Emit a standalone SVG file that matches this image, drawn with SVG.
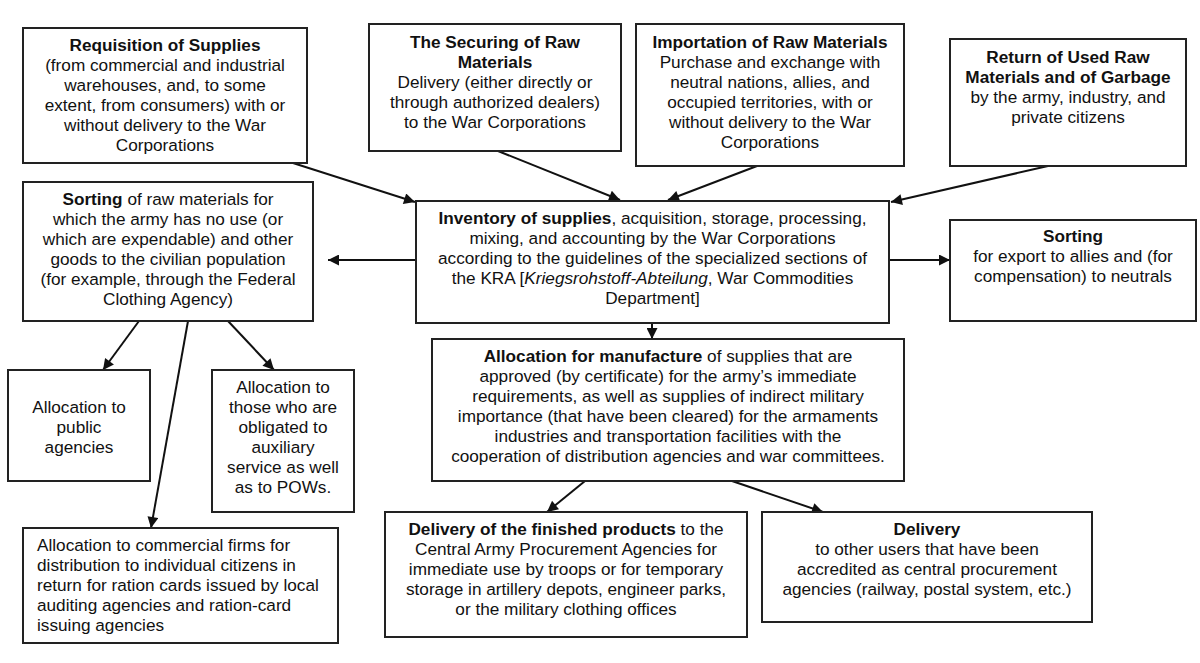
<svg xmlns="http://www.w3.org/2000/svg" width="1200" height="663" viewBox="0 0 1200 663">
<defs>
<style>
.box{fill:#fff;stroke:#222;stroke-width:2}
text{font-family:"Liberation Sans",Arial,sans-serif;font-size:17.2px;fill:#111}
.c{text-anchor:middle}
.b{font-weight:bold}
.i{font-style:italic}
.ln{stroke:#111;stroke-width:2;fill:none;marker-end:url(#ah)}
</style>
<marker id="ah" viewBox="0 0 10 10" refX="10" refY="5" markerWidth="7" markerHeight="5.5" markerUnits="strokeWidth" orient="auto">
<path d="M0,0 L10,5 L0,10 z" fill="#111"/>
</marker>
</defs>
<rect width="1200" height="663" fill="#fff"/>

<g id="connectors">
<line class="ln" x1="293" y1="163" x2="415" y2="202"/>
<line class="ln" x1="498" y1="151" x2="620" y2="200"/>
<line class="ln" x1="757" y1="166" x2="668" y2="200"/>
<line class="ln" x1="1048" y1="166" x2="891" y2="202"/>
<line class="ln" x1="416" y1="260" x2="328" y2="260"/>
<line class="ln" x1="889" y1="260" x2="950" y2="260"/>
<line class="ln" x1="652" y1="323" x2="652" y2="339"/>
<line class="ln" x1="139" y1="321" x2="103" y2="370"/>
<line class="ln" x1="188" y1="321" x2="151" y2="528"/>
<line class="ln" x1="228" y1="321" x2="274" y2="370"/>
<line class="ln" x1="585" y1="481" x2="547" y2="512"/>
<line class="ln" x1="732" y1="481" x2="823" y2="512"/>
</g>

<g id="requisition">
<rect class="box" x="23" y="28" width="284" height="135"/>
<text class="c" x="165" y="51"><tspan class="b">Requisition of Supplies</tspan><tspan x="165" y="71">(from commercial and industrial</tspan><tspan x="165" y="91">warehouses, and, to some</tspan><tspan x="165" y="111">extent, from consumers) with or</tspan><tspan x="165" y="131">without delivery to the War</tspan><tspan x="165" y="151">Corporations</tspan></text>
</g>

<g id="securing">
<rect class="box" x="369" y="24" width="252" height="127"/>
<text class="c" x="495" y="48"><tspan class="b">The Securing of Raw</tspan><tspan class="b" x="495" y="68">Materials</tspan><tspan x="495" y="88">Delivery (either directly or</tspan><tspan x="495" y="108">through authorized dealers)</tspan><tspan x="495" y="128">to the War Corporations</tspan></text>
</g>

<g id="importation">
<rect class="box" x="636" y="24" width="268" height="142"/>
<text class="c" x="770" y="48"><tspan class="b">Importation of Raw Materials</tspan><tspan x="770" y="68">Purchase and exchange with</tspan><tspan x="770" y="88">neutral nations, allies, and</tspan><tspan x="770" y="108">occupied territories, with or</tspan><tspan x="770" y="128">without delivery to the War</tspan><tspan x="770" y="148">Corporations</tspan></text>
</g>

<g id="return">
<rect class="box" x="950" y="39" width="236" height="127"/>
<text class="c" x="1068" y="63"><tspan class="b">Return of Used Raw</tspan><tspan class="b" x="1068" y="83">Materials and of Garbage</tspan><tspan x="1068" y="103">by the army, industry, and</tspan><tspan x="1068" y="123">private citizens</tspan></text>
</g>

<g id="sorting-civilian">
<rect class="box" x="23" y="182" width="290" height="139"/>
<text class="c" x="168" y="205"><tspan class="b">Sorting</tspan> of raw materials for<tspan x="168" y="225">which the army has no use (or</tspan><tspan x="168" y="245">which are expendable) and other</tspan><tspan x="168" y="265">goods to the civilian population</tspan><tspan x="168" y="285">(for example, through the Federal</tspan><tspan x="168" y="305">Clothing Agency)</tspan></text>
</g>

<g id="inventory">
<rect class="box" x="416" y="201" width="473" height="122"/>
<text class="c" x="652.5" y="224"><tspan class="b">Inventory of supplies</tspan>, acquisition, storage, processing,<tspan x="652.5" y="244">mixing, and accounting by the War Corporations</tspan><tspan x="652.5" y="264">according to the guidelines of the specialized sections of</tspan><tspan x="652.5" y="284">the KRA [<tspan class="i">Kriegsrohstoff-Abteilung</tspan>, War Commodities</tspan><tspan x="652.5" y="304">Department]</tspan></text>
</g>

<g id="sorting-export">
<rect class="box" x="950" y="220" width="246" height="101"/>
<text class="c" x="1073" y="242"><tspan class="b">Sorting</tspan><tspan x="1073" y="262">for export to allies and (for</tspan><tspan x="1073" y="282">compensation) to neutrals</tspan></text>
</g>

<g id="allocation-public">
<rect class="box" x="8" y="370" width="142" height="111"/>
<text class="c" x="79" y="413">Allocation to<tspan x="79" y="433">public</tspan><tspan x="79" y="453">agencies</tspan></text>
</g>

<g id="allocation-auxiliary">
<rect class="box" x="212" y="370" width="142" height="142"/>
<text class="c" x="283" y="393">Allocation to<tspan x="283" y="413">those who are</tspan><tspan x="283" y="433">obligated to</tspan><tspan x="283" y="453">auxiliary</tspan><tspan x="283" y="473">service as well</tspan><tspan x="283" y="493">as to POWs.</tspan></text>
</g>

<g id="allocation-commercial">
<rect class="box" x="23" y="528" width="315" height="115"/>
<text x="37" y="551">Allocation to commercial firms for<tspan x="37" y="571">distribution to individual citizens in</tspan><tspan x="37" y="591">return for ration cards issued by local</tspan><tspan x="37" y="611">auditing agencies and ration-card</tspan><tspan x="37" y="631">issuing agencies</tspan></text>
</g>

<g id="allocation-manufacture">
<rect class="box" x="432" y="339" width="472" height="142"/>
<text class="c" x="668" y="362"><tspan class="b">Allocation for manufacture</tspan> of supplies that are<tspan x="668" y="382">approved (by certificate) for the army’s immediate</tspan><tspan x="668" y="402">requirements, as well as supplies of indirect military</tspan><tspan x="668" y="422">importance (that have been cleared) for the armaments</tspan><tspan x="668" y="442">industries and transportation facilities with the</tspan><tspan x="668" y="462">cooperation of distribution agencies and war committees.</tspan></text>
</g>

<g id="delivery-finished">
<rect class="box" x="385" y="512" width="362" height="125"/>
<text class="c" x="566" y="535"><tspan class="b">Delivery of the finished products</tspan> to the<tspan x="566" y="555">Central Army Procurement Agencies for</tspan><tspan x="566" y="575">immediate use by troops or for temporary</tspan><tspan x="566" y="595">storage in artillery depots, engineer parks,</tspan><tspan x="566" y="615">or the military clothing offices</tspan></text>
</g>

<g id="delivery-other">
<rect class="box" x="762" y="512" width="330" height="110"/>
<text class="c" x="927" y="535"><tspan class="b">Delivery</tspan><tspan x="927" y="555">to other users that have been</tspan><tspan x="927" y="575">accredited as central procurement</tspan><tspan x="927" y="595">agencies (railway, postal system, etc.)</tspan></text>
</g>
</svg>
